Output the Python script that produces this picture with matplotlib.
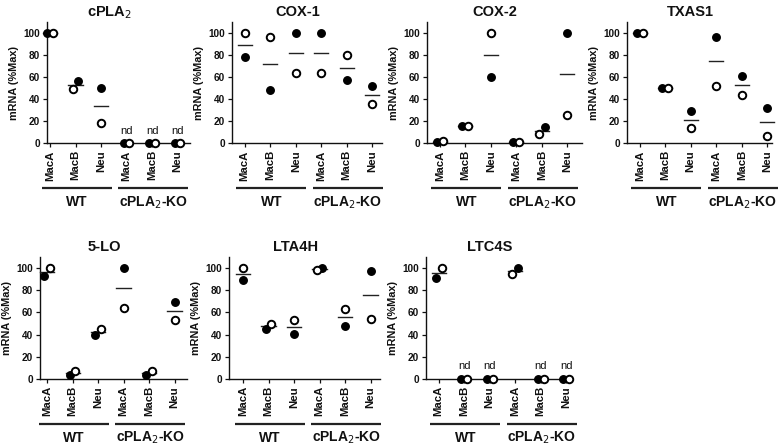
import matplotlib
matplotlib.use("Agg")
import matplotlib.pyplot as plt
import matplotlib.transforms as mtransforms
import numpy as np

plt.rcParams['font.family'] = ['Liberation Sans', 'DejaVu Sans']

categories = ["MacA", "MacB", "Neu", "MacA", "MacB", "Neu"]
groups = ["WT", "cPLA$_2$-KO"]
yticks = [0, 20, 40, 60, 80, 100]

titles = ["cPLA$_2$", "COX-1", "COX-2", "TXAS1", "5-LO", "LTA4H", "LTC4S"]

# filled (first replicate) and open (second replicate); None = not detected (nd)
cpla2_filled = [100, 56, 50, None, None, None]
cpla2_open = [100, 49, 18, None, None, None]
cox1_filled = [78, 48, 100, 100, 57, 52]
cox1_open = [100, 96, 64, 64, 80, 36]
cox2_filled = [1, 16, 60, 1, 15, 100]
cox2_open = [2, 16, 100, 1, 8, 26]
txas1_filled = [100, 50, 29, 96, 61, 32]
txas1_open = [100, 50, 14, 52, 44, 7]
lo5_filled = [93, 4, 40, 100, 4, 69]
lo5_open = [100, 7, 45, 64, 7, 53]
lta4h_filled = [89, 45, 41, 100, 48, 97]
lta4h_open = [100, 50, 53, 98, 63, 54]
ltc4s_filled = [91, None, None, 100, None, None]
ltc4s_open = [100, None, None, 95, None, None]

filled_sets = [cpla2_filled, cox1_filled, cox2_filled, txas1_filled,
               lo5_filled, lta4h_filled, ltc4s_filled]
open_sets = [cpla2_open, cox1_open, cox2_open, txas1_open,
             lo5_open, lta4h_open, ltc4s_open]

W, H = 780, 447
fig = plt.figure(figsize=(W / 100, H / 100), dpi=100)

# axes boxes in pixels: (left, right, y_zero, y_top, xlim left)
boxes = [
    (47, 190, 143.3, 21.7, -0.12),
    (232, 382, 143.3, 21.7, -0.5),
    (427, 582, 143.3, 21.7, -0.5),
    (627, 772, 143.3, 21.7, -0.5),
    (40, 187, 379, 257, -0.28),
    (229, 380, 379, 257, -0.55),
    (426, 570, 379, 257, -0.5),
]
spacing = 25.5
ink = '#111111'

def dodge(vf, vo, thr=9.5, off=0.11):
    if abs(vf - vo) < thr:
        if vf <= vo:
            return -off, off
        return off, -off
    return 0.0, 0.0

for i, (title, fvals, ovals) in enumerate(zip(titles, filled_sets, open_sets)):
    l, r, y0, yt, xl = boxes[i]
    ax = fig.add_axes([l / W, (H - y0) / H, (r - l) / W, (y0 - yt) / H])
    xr = xl + (r - l) / spacing
    ax.set_xlim(xl, xr)
    ax.set_ylim(0, 110)
    for s in ['top', 'right']:
        ax.spines[s].set_visible(False)
    for s in ['left', 'bottom']:
        ax.spines[s].set_linewidth(1.0)
        ax.spines[s].set_color(ink)
    ax.set_yticks(yticks)
    ax.set_yticklabels([str(t) for t in yticks], fontsize=7.2, fontweight='bold',
                       color=ink)
    ax.set_xticks(range(len(categories)))
    ax.set_xticklabels(categories, rotation=90, fontsize=8.2, fontweight='bold',
                       va='top', ha='center', color=ink)
    ax.tick_params(axis='both', direction='out', length=3, width=0.9, pad=2,
                   colors=ink)
    ax.set_ylabel("mRNA (%Max)", fontsize=7.8, fontweight='bold', labelpad=3,
                  color=ink)
    ax.set_title(title, fontsize=10.5, fontweight='bold', x=0.44, pad=4, color=ink)

    for j, (vf, vo) in enumerate(zip(fvals, ovals)):
        if vf is None:
            df, do = -0.11, 0.11
            ax.plot(j + df, 0, 'o', ms=5.4, color='black', clip_on=False, zorder=5)
            ax.plot(j + do, 0, 'o', ms=5.4, mfc='white', mec='black', mew=1.4,
                    clip_on=False, zorder=6)
            ax.text(j, 7, "nd", ha='center', va='bottom', fontsize=8, color=ink)
            continue
        df, do = dodge(vf, vo)
        mean = (vf + vo) / 2.0
        ax.plot([j - 0.28, j + 0.28], [mean, mean], color='#222222', lw=1.0,
                zorder=3, clip_on=False)
        ax.plot(j + df, vf, 'o', ms=5.4, color='black', clip_on=False, zorder=5)
        ax.plot(j + do, vo, 'o', ms=5.4, mfc='white', mec='black', mew=1.4,
                clip_on=False, zorder=6)

    # group lines and labels
    trans_line = mtransforms.blended_transform_factory(ax.transData, ax.transAxes) + \
        mtransforms.ScaledTranslation(0, -45 / 100, fig.dpi_scale_trans)
    trans_lab = mtransforms.blended_transform_factory(ax.transData, ax.transAxes) + \
        mtransforms.ScaledTranslation(0, -59 / 100, fig.dpi_scale_trans)
    for g, (a, b) in enumerate([(0, 2), (3, 5)]):
        ax.plot([a - 0.33, b + 0.42], [0, 0], color='#222222', lw=1.6,
                transform=trans_line, clip_on=False, solid_capstyle='butt')
        ax.text((a + b) / 2 + 0.05, 0, groups[g], transform=trans_lab,
                ha='center', va='center', fontsize=10, fontweight='bold', color=ink)

fig.savefig("out.png", dpi=100)
